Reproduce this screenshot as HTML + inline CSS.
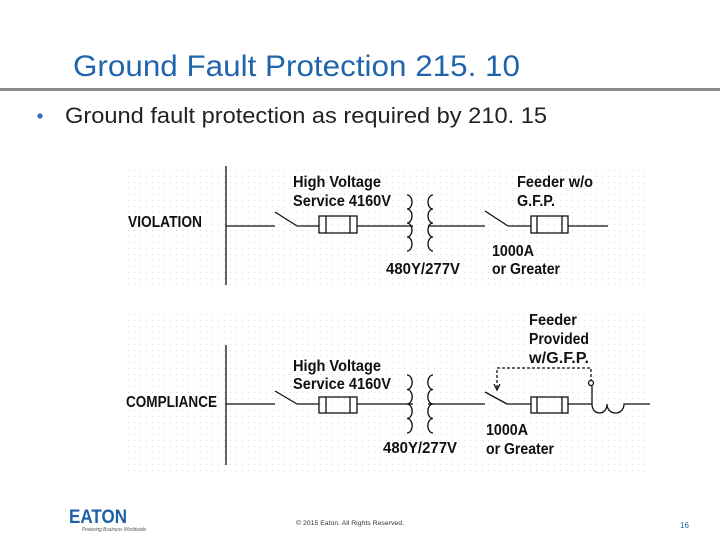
<!DOCTYPE html>
<html><head><meta charset="utf-8"><style>
html,body{margin:0;padding:0;background:#fff;width:720px;height:540px;overflow:hidden}
svg{display:block}
.t{font-family:"Liberation Sans",Arial,sans-serif;font-weight:bold;font-size:16px;fill:#111}
</style></head><body>
<svg width="720" height="540" viewBox="0 0 720 540" xmlns="http://www.w3.org/2000/svg">
<defs>
<pattern id="d" width="6" height="6" patternUnits="userSpaceOnUse"><rect x="2" y="2" width="1" height="1" fill="#d8d8d8"/></pattern>
</defs>
<text x="73" y="76" font-family="Liberation Sans,Arial,sans-serif" font-size="30" fill="#1f64ad" textLength="447" lengthAdjust="spacingAndGlyphs">Ground Fault Protection 215. 10</text>
<rect x="0" y="88" width="720" height="3" fill="#8a8a8a"/>
<circle cx="40" cy="116" r="2.6" fill="#2a6db5"/>
<text x="65" y="123" font-family="Liberation Sans,Arial,sans-serif" font-size="22" fill="#222" textLength="482" lengthAdjust="spacingAndGlyphs">Ground fault protection as required by 210. 15</text>

<rect x="125" y="165" width="525" height="122" fill="url(#d)"/>
<rect x="125" y="310" width="525" height="162" fill="url(#d)"/>

<g stroke="#111" stroke-width="1.3" fill="none">
<line x1="226" y1="166" x2="226" y2="285"/>
<line x1="226" y1="226" x2="275" y2="226"/>
<line x1="275" y1="212" x2="297" y2="226"/>
<line x1="297" y1="226" x2="319" y2="226"/>
<rect x="319" y="216" width="38" height="17"/>
<line x1="326" y1="216" x2="326" y2="233"/><line x1="350" y1="216" x2="350" y2="233"/>
<line x1="357" y1="226" x2="413" y2="226"/>
<path d="M407 195 a5 7 0 0 1 0 14 a5 7 0 0 1 0 14 a5 7 0 0 1 0 14 a5 7 0 0 1 0 14"/>
<path d="M433 195 a5 7 0 0 0 0 14 a5 7 0 0 0 0 14 a5 7 0 0 0 0 14 a5 7 0 0 0 0 14"/>
<line x1="428" y1="226" x2="485" y2="226"/>
<line x1="485" y1="211" x2="508" y2="226"/>
<line x1="508" y1="226" x2="531" y2="226"/>
<rect x="531" y="216" width="37" height="17"/>
<line x1="537" y1="216" x2="537" y2="233"/><line x1="562" y1="216" x2="562" y2="233"/>
<line x1="568" y1="226" x2="608" y2="226"/>
<line x1="226" y1="345" x2="226" y2="465"/>
<line x1="226" y1="404" x2="275" y2="404"/>
<line x1="275" y1="391" x2="297" y2="404"/>
<line x1="297" y1="404" x2="319" y2="404"/>
<rect x="319" y="397" width="38" height="16"/>
<line x1="326" y1="397" x2="326" y2="413"/><line x1="350" y1="397" x2="350" y2="413"/>
<line x1="357" y1="404" x2="413" y2="404"/>
<path d="M407 375 a5 7 0 0 1 0 14.5 a5 7 0 0 1 0 14.5 a5 7 0 0 1 0 14.5 a5 7 0 0 1 0 14.5"/>
<path d="M433 375 a5 7 0 0 0 0 14.5 a5 7 0 0 0 0 14.5 a5 7 0 0 0 0 14.5 a5 7 0 0 0 0 14.5"/>
<line x1="428" y1="404" x2="485" y2="404"/>
<line x1="485" y1="392" x2="507" y2="404"/>
<line x1="507" y1="404" x2="531" y2="404"/>
<rect x="531" y="397" width="37" height="16"/>
<line x1="537" y1="397" x2="537" y2="413"/><line x1="562" y1="397" x2="562" y2="413"/>
<line x1="568" y1="404" x2="592" y2="404"/>
<path d="M592 386 L592 404 C592 416 607 416 607 404 C607 416 624 416 624 404 L650 404"/>
<g stroke-dasharray="3,2">
<path d="M497 388 L497 368 L591 368 L591 380"/>
</g>
<circle cx="591" cy="383" r="2.5"/>
<path d="M494 384 L497 390 L500 384"/>
</g>

<text class="t" x="293" y="187" textLength="88" lengthAdjust="spacingAndGlyphs">High Voltage</text>
<text class="t" x="293" y="206" textLength="98" lengthAdjust="spacingAndGlyphs">Service 4160V</text>
<text class="t" x="517" y="187" textLength="76" lengthAdjust="spacingAndGlyphs">Feeder w/o</text>
<text class="t" x="517" y="206" textLength="38" lengthAdjust="spacingAndGlyphs">G.F.P.</text>
<text class="t" x="128" y="227" textLength="74" lengthAdjust="spacingAndGlyphs">VIOLATION</text>
<text class="t" x="386" y="274" textLength="74" lengthAdjust="spacingAndGlyphs">480Y/277V</text>
<text class="t" x="492" y="256" textLength="42" lengthAdjust="spacingAndGlyphs">1000A</text>
<text class="t" x="492" y="274" textLength="68" lengthAdjust="spacingAndGlyphs">or Greater</text>

<text class="t" x="529" y="325" textLength="48" lengthAdjust="spacingAndGlyphs">Feeder</text>
<text class="t" x="529" y="344" textLength="60" lengthAdjust="spacingAndGlyphs">Provided</text>
<text class="t" x="529" y="363" textLength="60" lengthAdjust="spacingAndGlyphs">w/G.F.P.</text>
<text class="t" x="293" y="371" textLength="88" lengthAdjust="spacingAndGlyphs">High Voltage</text>
<text class="t" x="293" y="389" textLength="98" lengthAdjust="spacingAndGlyphs">Service 4160V</text>
<text class="t" x="126" y="407" textLength="91" lengthAdjust="spacingAndGlyphs">COMPLIANCE</text>
<text class="t" x="383" y="453" textLength="74" lengthAdjust="spacingAndGlyphs">480Y/277V</text>
<text class="t" x="486" y="435" textLength="42" lengthAdjust="spacingAndGlyphs">1000A</text>
<text class="t" x="486" y="454" textLength="68" lengthAdjust="spacingAndGlyphs">or Greater</text>

<text x="69" y="523" font-family="Liberation Sans,Arial,sans-serif" font-weight="bold" font-size="19" fill="#1e5fa8" textLength="58" lengthAdjust="spacingAndGlyphs">EATON</text>
<text x="82" y="531" font-family="Liberation Sans,Arial,sans-serif" font-style="italic" font-size="5" fill="#555" textLength="64" lengthAdjust="spacingAndGlyphs">Powering Business Worldwide</text>
<text x="296" y="525" font-family="Liberation Sans,Arial,sans-serif" font-size="6" fill="#333" textLength="108" lengthAdjust="spacingAndGlyphs">© 2015 Eaton. All Rights Reserved.</text>
<text x="680" y="528" font-family="Liberation Sans,Arial,sans-serif" font-size="8" fill="#1e5fa8">16</text>
</svg>
</body></html>
